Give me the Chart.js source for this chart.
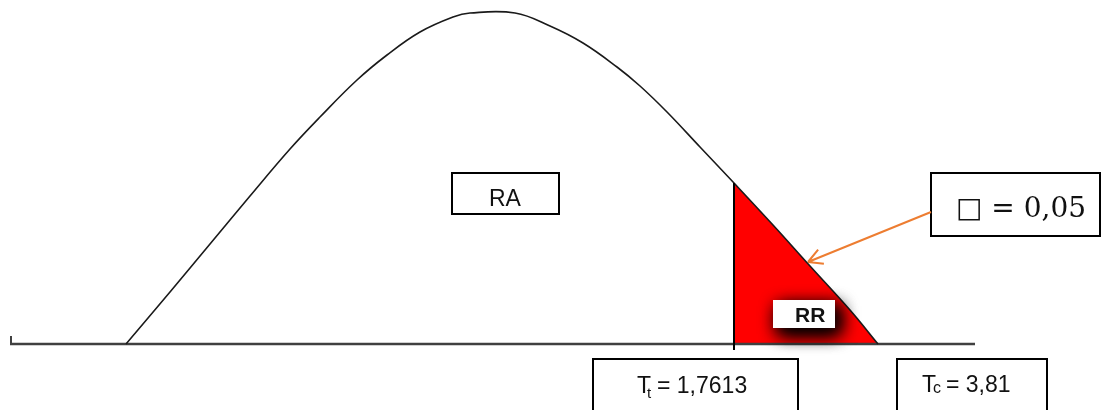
<!DOCTYPE html>
<html>
<head>
<meta charset="utf-8">
<script src="https://cdn.jsdelivr.net/npm/chart.js@4"></script>
<style>
  html, body { margin: 0; padding: 0; background: #fff; }
  #wrap { width: 1103px; height: 410px; }
</style>
</head>
<body>
<div id="wrap"><canvas id="chart"></canvas></div>
<script>
// curve (drawing units, height above the base line)
const curveX = [126, 170, 210, 250, 290, 320, 357, 387, 420, 453, 470, 515, 550, 583, 617, 640, 667, 700, 734, 773, 810, 850, 878];
const curveY = [0, 52, 100, 148, 195, 227, 264, 289, 312, 327, 331, 331, 318, 301, 277, 258, 232, 197, 161, 119, 78, 34, 0];

const ttValue = '1,7613';
const tcValue = '3,81';
const alphaValue = '0,05';
const cutX = 734;   // where T table sits on the axis

const pts = curveX.map((x, i) => ({ x: x, y: curveY[i] }));
const tail = pts.filter(p => p.x >= cutX);

// boxes + arrow drawn on top of the datasets
const labelsPlugin = {
  id: 'labels',
  afterDatasetsDraw(chart) {
    const ctx = chart.ctx;
    const xs = chart.scales.x, ys = chart.scales.y;
    const px = v => xs.getPixelForValue(v);
    const py = v => ys.getPixelForValue(v);
    const sans = 'Arial, "Liberation Sans", sans-serif';

    function box(x0, y0, x1, y1) {
      ctx.save();
      ctx.fillStyle = '#fff';
      ctx.strokeStyle = '#000';
      ctx.lineWidth = 2;
      ctx.fillRect(px(x0), py(y0), px(x1) - px(x0), py(y1) - py(y0));
      ctx.strokeRect(px(x0), py(y0), px(x1) - px(x0), py(y1) - py(y0));
      ctx.restore();
    }

    // RA
    box(452, 171, 559, 130);
    ctx.save();
    ctx.fillStyle = '#111';
    ctx.font = '23px ' + sans;
    ctx.fillText('RA', px(489), py(138));
    ctx.restore();

    // RR with dark shadow
    ctx.save();
    ctx.shadowColor = 'rgba(0,0,0,1)';
    ctx.shadowBlur = 18;
    ctx.shadowOffsetX = 5;
    ctx.shadowOffsetY = 6;
    ctx.fillStyle = '#fff';
    ctx.fillRect(px(773), py(44), px(835) - px(773), py(16) - py(44));
    ctx.fillRect(px(773), py(44), px(835) - px(773), py(16) - py(44));
    ctx.restore();
    ctx.save();
    ctx.fillStyle = '#fff';
    ctx.fillRect(px(773), py(44), px(835) - px(773), py(16) - py(44));
    ctx.fillStyle = '#111';
    ctx.font = 'bold 21px ' + sans;
    ctx.fillText('RR', px(795), py(22));
    ctx.restore();

    // T table
    box(593, -15, 798, -80);
    ctx.save();
    ctx.fillStyle = '#111';
    ctx.font = '23px ' + sans;
    ctx.fillText('T', px(637), py(-49));
    ctx.font = '15px ' + sans;
    ctx.fillText('t', px(647), py(-54));
    ctx.font = '23px ' + sans;
    ctx.fillText('= ' + ttValue, px(657), py(-49));
    ctx.restore();

    // T count
    box(897, -15, 1047, -80);
    ctx.save();
    ctx.fillStyle = '#111';
    ctx.font = '23px ' + sans;
    ctx.fillText('T', px(922), py(-48));
    ctx.font = '16px ' + sans;
    ctx.fillText('c', px(933), py(-49));
    ctx.font = '23px ' + sans;
    ctx.fillText('= ' + tcValue, px(946), py(-48));
    ctx.restore();

    // alpha
    box(931, 171, 1100, 108);
    ctx.save();
    ctx.fillStyle = '#111';
    ctx.font = '28px "DejaVu Serif", "Liberation Serif", serif';
    ctx.fillText('\u25A1 = ' + alphaValue, px(956), py(127));
    ctx.restore();

    // orange arrow
    const ax0 = px(931), ay0 = py(132), ax1 = px(808), ay1 = py(82);
    const ang = Math.atan2(ay1 - ay0, ax1 - ax0);
    ctx.save();
    ctx.strokeStyle = '#ED7D31';
    ctx.lineWidth = 2;
    ctx.beginPath();
    ctx.moveTo(ax0, ay0);
    ctx.lineTo(ax1, ay1);
    for (const s of [-1, 1]) {
      ctx.moveTo(ax1, ay1);
      ctx.lineTo(ax1 - 16 * Math.cos(ang + s * 0.5), ay1 - 16 * Math.sin(ang + s * 0.5));
    }
    ctx.stroke();
    ctx.restore();
  }
};

const chart = document.querySelector('#chart').getContext('2d');

new Chart(chart, {
  type: 'scatter',
  data: {
    datasets: [
      {
        // curve
        data: pts,
        showLine: true,
        borderColor: '#1a1a1a',
        borderWidth: 1.6,
        pointRadius: 0,
        tension: 0.4,
        fill: false,
        order: 1
      },
      {
        // rejection region
        data: tail,
        showLine: true,
        borderColor: 'rgba(0,0,0,0)',
        borderWidth: 0,
        backgroundColor: '#FF0000',
        pointRadius: 0,
        tension: 0.4,
        fill: 'origin',
        order: 3
      },
      {
        // base line
        data: [{ x: 10, y: 0 }, { x: 975, y: 0 }],
        showLine: true,
        borderColor: '#404040',
        borderWidth: 2.5,
        pointRadius: 0,
        order: 2
      },
      {
        data: [{ x: 11, y: 8 }, { x: 11, y: 0 }],
        showLine: true,
        borderColor: '#404040',
        borderWidth: 2,
        pointRadius: 0,
        order: 2
      },
      {
        // T table marker
        data: [{ x: cutX, y: -6 }, { x: cutX, y: curveY[curveX.indexOf(cutX)] }],
        showLine: true,
        borderColor: '#000',
        borderWidth: 2,
        pointRadius: 0,
        order: 0
      }
    ]
  },
  options: {
    responsive: true,
    maintainAspectRatio: false,
    devicePixelRatio: 1,
    animation: false,
    layout: { padding: 0 },
    plugins: {
      legend: { display: false },
      tooltip: { enabled: false }
    },
    scales: {
      x: { type: 'linear', min: 0, max: 1103, display: false },
      y: { type: 'linear', min: -66, max: 344, display: false }
    }
  },
  plugins: [labelsPlugin]
});
</script>
</body>
</html>
